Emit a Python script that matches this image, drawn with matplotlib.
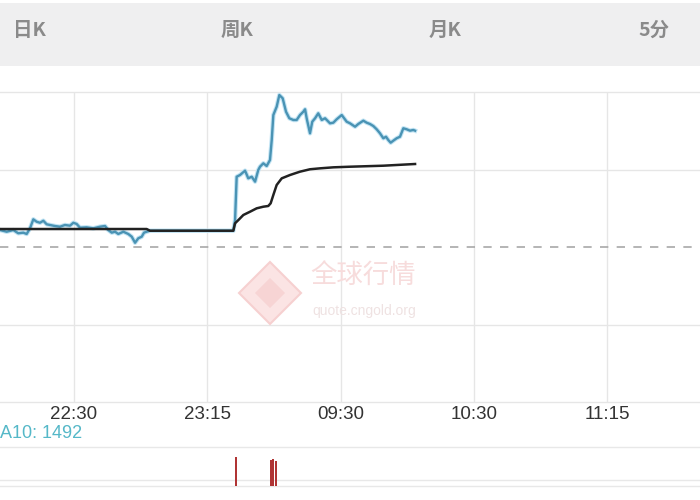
import matplotlib
matplotlib.use("Agg")
import matplotlib.pyplot as plt
from matplotlib.patches import Rectangle, Polygon

plt.rcParams['font.family'] = ['Noto Sans CJK SC', 'DejaVu Sans']

# ---------------- data ----------------
tabs = ["日K", "周K", "月K", "5分"]
tick_pos = [0, 1, 2, 3, 4]
tick_labels = ["22:30", "23:15", "09:30", "10:30", "11:15"]

price_x = [-0.555, -0.505, -0.455, -0.418, -0.380, -0.355, -0.330, -0.305, -0.280, -0.255,
           -0.230, -0.205, -0.180, -0.143, -0.105, -0.068, -0.030, -0.005, 0.020, 0.045,
           0.095, 0.145, 0.195, 0.233, 0.257, 0.283, 0.308, 0.332, 0.370, 0.407,
           0.433, 0.458, 0.482, 0.508, 0.525, 0.545, 0.570, 1.195, 1.208, 1.220,
           1.245, 1.283, 1.307, 1.333, 1.358, 1.382, 1.395, 1.420, 1.445, 1.470,
           1.483, 1.495, 1.520, 1.540, 1.565, 1.590, 1.615, 1.645, 1.670, 1.695,
           1.720, 1.733, 1.745, 1.770, 1.787, 1.808, 1.832, 1.858, 1.883, 1.920,
           1.945, 1.970, 2.008, 2.045, 2.070, 2.108, 2.132, 2.170, 2.195, 2.220,
           2.245, 2.270, 2.295, 2.320, 2.340, 2.357, 2.375, 2.395, 2.420, 2.445,
           2.470, 2.495, 2.520, 2.545, 2.558]
price_y = [0.219, 0.197, 0.219, 0.177, 0.185, 0.168, 0.241, 0.357, 0.326, 0.313,
           0.339, 0.293, 0.284, 0.271, 0.262, 0.284, 0.275, 0.313, 0.297, 0.249,
           0.254, 0.241, 0.262, 0.271, 0.219, 0.185, 0.197, 0.168, 0.197, 0.168,
           0.133, 0.055, 0.112, 0.133, 0.185, 0.197, 0.210, 0.210, 0.348, 0.907,
           0.929, 0.985, 0.886, 0.907, 0.843, 0.994, 1.036, 1.080, 1.045, 1.123,
           1.381, 1.703, 1.810, 1.961, 1.919, 1.746, 1.661, 1.639, 1.639, 1.703,
           1.746, 1.777, 1.661, 1.467, 1.617, 1.661, 1.725, 1.639, 1.661, 1.596,
           1.604, 1.648, 1.703, 1.617, 1.596, 1.552, 1.587, 1.630, 1.604, 1.587,
           1.561, 1.519, 1.467, 1.403, 1.423, 1.381, 1.346, 1.372, 1.403, 1.423,
           1.532, 1.519, 1.501, 1.510, 1.501]

avg_x = [-0.555, 0.545, 0.570, 1.195, 1.208, 1.233, 1.270, 1.320, 1.370, 1.420,
         1.457, 1.475, 1.495, 1.520, 1.558, 1.620, 1.695, 1.770, 1.845, 1.945,
         2.070, 2.320, 2.558]
avg_y = [0.232, 0.232, 0.210, 0.210, 0.306, 0.348, 0.413, 0.455, 0.499, 0.520,
         0.529, 0.564, 0.671, 0.800, 0.886, 0.929, 0.972, 1.003, 1.015, 1.028,
         1.036, 1.049, 1.071]

prev_close = 0.0
grid_levels = [-2, -1, 1, 2]

vol_x = [1.215, 1.478, 1.493, 1.515]
vol_vals = [2950, 2650, 2750, 2600]
ma10_label = "A10: 1492"

# ---------------- figure ----------------
W, H = 700, 500
fig = plt.figure(figsize=(7, 5), dpi=100)
fig.patch.set_facecolor("white")

# top tab band
fig.patches.append(Rectangle((0, 1 - 66 / H), 1, 63 / H, transform=fig.transFigure,
                             facecolor="#efeff0", edgecolor="none", zorder=0))
tab_x = [29, 237, 445, 654]
for t, xp in zip(tabs, tab_x):
    fig.text(xp / W, 1 - 30 / H, t, ha="center", va="center", fontsize=14,
             fontweight="bold", color="#8a8a8a")

# main axes
xlim = (-0.555, 4.695)
ax = fig.add_axes([0, 1 - 402 / H, 1, 310 / H])
ax.set_xlim(*xlim)
ax.set_ylim(-2, 2)
for s in ax.spines.values():
    s.set_visible(False)
ax.set_yticks([])
ax.set_xticks(tick_pos)
ax.set_xticklabels(tick_labels, fontsize=13.5, color="#333333",
                   fontfamily=["Liberation Sans", "DejaVu Sans"])
ax.tick_params(axis="x", length=0, pad=3)

for g in grid_levels:
    ax.axhline(g, color="#e6e6e6", lw=1, clip_on=False, zorder=1)
for t in tick_pos:
    ax.axvline(t, color="#e6e6e6", lw=1, zorder=1)
ax.axhline(prev_close, color="#a8a8a8", lw=1.2, linestyle=(0, (5, 5)), zorder=2)

# watermark
fig.patches.append(Polygon([(270 / W, 1 - 262 / H), (301 / W, 1 - 293 / H),
                            (270 / W, 1 - 324 / H), (239 / W, 1 - 293 / H)],
                           closed=True, transform=fig.transFigure,
                           facecolor="#fbe4e4", edgecolor="#f6d0d0", lw=1.5, zorder=0.5))
fig.patches.append(Polygon([(270 / W, 1 - 278 / H), (285 / W, 1 - 293 / H),
                            (270 / W, 1 - 308 / H), (255 / W, 1 - 293 / H)],
                           closed=True, transform=fig.transFigure,
                           facecolor="#f7d4d4", edgecolor="none", zorder=0.6))
fig.text(363 / W, 1 - 276 / H, "全球行情", ha="center", va="center", fontsize=19,
         color="#f7dcdc")
fig.text(364 / W, 1 - 311 / H, "quote.cngold.org", ha="center", va="center",
         fontsize=10, color="#efe2e2", fontfamily=["Liberation Sans", "DejaVu Sans"])

ax.plot(price_x, price_y, color="#c2e4f4", lw=3.2, solid_joinstyle="round", zorder=3)
ax.plot(price_x, price_y, color="#4a93b4", lw=1.7, solid_joinstyle="round", zorder=4)
ax.plot(avg_x, avg_y, color="#222222", lw=1.8, zorder=5)

# MA10 label
fig.text(0 / W, 1 - 434 / H, ma10_label, ha="left", va="center", fontsize=13,
         color="#55b8c8", fontfamily=["Liberation Sans", "DejaVu Sans"])

# volume axes
axv = fig.add_axes([0, 1 - 486 / H, 1, 39 / H])
axv.set_xlim(*xlim)
axv.set_ylim(0, 4000)
axv.axis("off")
for lvl in [0, 615, 4000]:
    axv.axhline(lvl, color="#e8e8e8", lw=1, clip_on=False, zorder=1)
axv.bar(vol_x, vol_vals, width=0.014, color="#b03434", zorder=3)

fig.savefig("out.png", dpi=100, facecolor="white")
